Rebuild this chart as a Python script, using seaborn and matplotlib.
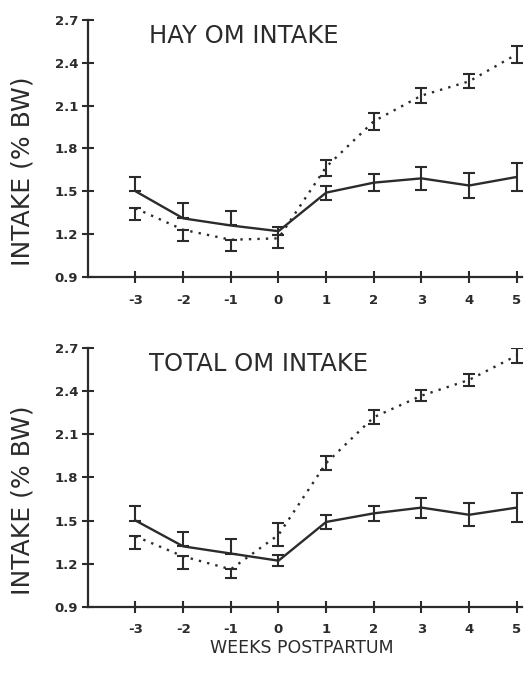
import numpy as np
import pandas as pd
import matplotlib
matplotlib.use("Agg")
import matplotlib.pyplot as plt
import seaborn as sns

weeks = [-3, -2, -1, 0, 1, 2, 3, 4, 5]

# hay OM intake, solid line group
hay_solid = [1.50, 1.31, 1.26, 1.22, 1.49, 1.56, 1.59, 1.54, 1.60]
hay_solid_lo = [0.00, 0.00, 0.00, 0.03, 0.05, 0.06, 0.08, 0.09, 0.10]
hay_solid_hi = [0.10, 0.11, 0.10, 0.03, 0.05, 0.06, 0.08, 0.09, 0.10]
# hay OM intake, dotted line group
hay_dot = [1.38, 1.23, 1.16, 1.17, 1.67, 1.99, 2.17, 2.27, 2.46]
hay_dot_lo = [0.08, 0.08, 0.08, 0.07, 0.06, 0.06, 0.05, 0.05, 0.06]
hay_dot_hi = [0.00, 0.00, 0.00, 0.02, 0.05, 0.06, 0.05, 0.05, 0.06]

# total OM intake
tot_solid = [1.50, 1.32, 1.27, 1.22, 1.49, 1.55, 1.59, 1.54, 1.59]
tot_solid_lo = [0.00, 0.00, 0.00, 0.04, 0.05, 0.05, 0.07, 0.08, 0.10]
tot_solid_hi = [0.10, 0.10, 0.10, 0.04, 0.05, 0.05, 0.07, 0.08, 0.10]
tot_dot = [1.39, 1.25, 1.16, 1.40, 1.90, 2.22, 2.37, 2.48, 2.65]
tot_dot_lo = [0.09, 0.09, 0.06, 0.08, 0.05, 0.05, 0.04, 0.04, 0.05]
tot_dot_hi = [0.00, 0.00, 0.00, 0.08, 0.05, 0.05, 0.04, 0.04, 0.05]

panels = [
    ("HAY OM INTAKE", hay_solid, hay_solid_lo, hay_solid_hi, hay_dot, hay_dot_lo, hay_dot_hi),
    ("TOTAL OM INTAKE", tot_solid, tot_solid_lo, tot_solid_hi, tot_dot, tot_dot_lo, tot_dot_hi),
]
yticks = [0.9, 1.2, 1.5, 1.8, 2.1, 2.4, 2.7]

sns.set_style("ticks")
plt.rcParams["font.family"] = ["DejaVu Sans"]
ink = "#2b2b2b"

fig = plt.figure(figsize=(5.29, 6.87), dpi=100)
boxes = [[0.166, 0.597, 0.82, 0.374], [0.166, 0.117, 0.82, 0.376]]

for box, (title, s, slo, shi, d, dlo, dhi) in zip(boxes, panels):
    ax = fig.add_axes(box)
    df = pd.DataFrame({"week": weeks * 2, "intake": s + d,
                       "group": ["solid"] * 9 + ["dot"] * 9})
    sns.lineplot(data=df, x="week", y="intake", hue="group", style="group",
                 palette={"solid": ink, "dot": ink},
                 dashes={"solid": "", "dot": (1, 2.6)},
                 linewidth=1.7, legend=False, ax=ax)
    ax.errorbar(weeks, s, yerr=[slo, shi], fmt="none", ecolor=ink,
                elinewidth=1.5, capsize=4, capthick=1.5)
    ax.errorbar(weeks, d, yerr=[dlo, dhi], fmt="none", ecolor=ink,
                elinewidth=1.5, capsize=4, capthick=1.5)
    ax.set_xlim(-4.0, 5.1)
    ax.set_ylim(0.9, 2.7)
    ax.set_xticks(weeks)
    ax.set_yticks(yticks)
    ax.set_xticklabels([str(w) for w in weeks], fontsize=9.5, fontweight="bold", color=ink)
    ax.set_yticklabels([f"{v:.1f}" for v in yticks], fontsize=9.5, fontweight="bold", color=ink)
    ax.tick_params(direction="inout", length=8, width=1.5, colors=ink)
    ax.tick_params(axis="x", pad=8)
    ax.tick_params(axis="y", pad=3)
    sns.despine(ax=ax)
    for sp in ("left", "bottom"):
        ax.spines[sp].set_linewidth(1.6)
        ax.spines[sp].set_color(ink)
    ax.set_xlabel("")
    ax.set_ylabel("INTAKE (% BW)", fontsize=18, color=ink)
    ax.yaxis.set_label_coords(-0.122, 0.41)
    ax.text(0.14, 0.985, title, transform=ax.transAxes, fontsize=17.5,
            color=ink, va="top", ha="left")

fig.text(0.57, 0.05, "WEEKS POSTPARTUM", fontsize=12.5, color=ink, ha="center")
fig.savefig("out.png", dpi=100)
